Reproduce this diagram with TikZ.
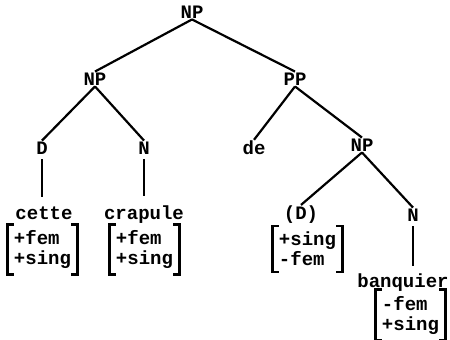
\documentclass[tikz,border=0pt]{standalone}
\usepackage{fontspec}
\setmonofont{Liberation Mono}
\usepackage{tikz}

\begin{document}
\begin{tikzpicture}[x=1pt,y=-1pt,
		lbl/.style={font=\ttfamily\bfseries\fontsize{19}{20}\selectfont,inner sep=1pt},
		word/.style={lbl,anchor=base},
		feat/.style={lbl,align=left,inner xsep=6pt,inner ysep=6pt},
		branch/.style={line width=2.2pt},
		brk/.style={line width=2.6pt}]
		\useasboundingbox (0,0) rectangle (450,340);
		% categories
		\node[lbl] (np0) at (192,12) {NP};
		\node[lbl] (np1) at (95,79) {NP};
		\node[lbl] (pp) at (295,79) {PP};
		\node[lbl] (d1) at (42,148) {D};
		\node[lbl] (n1) at (144,148) {N};
		\node[lbl] (de) at (254,148) {de};
		\node[lbl] (np2) at (362,145) {NP};
		\node[lbl] (d2) at (301,215) {(D)};
		\node[lbl] (n2) at (413,215) {N};
		% words and features
		\node[word] (cette) at (44,219) {cette};
		\node[word] (crapule) at (144,219) {crapule};
		\node[word] (banquier) at (403,287) {banquier};
		\node[feat] (f1) at (42.5,249.5) {+fem\\+sing};
		\node[feat] (f2) at (144.5,249.5) {+fem\\+sing};
		\node[feat] (f3) at (307.5,249) {+sing\\-fem};
		\node[feat] (f4) at (410.5,315) {-fem\\+sing};

		\draw[branch] (np0.south) -- (np1.north);
		\draw[branch] (np0.south) -- (pp.north);
		\draw[branch] (np1.south) -- (d1.north);
		\draw[branch] (np1.south) -- (n1.north);
		\draw[branch] (pp.south) -- (de.north);
		\draw[branch] (pp.south) -- (np2.north);
		\draw[branch] (np2.south) -- (d2.north);
		\draw[branch] (np2.south) -- (n2.north);
		\draw[branch,shorten <=4pt,shorten >=8pt] (d1.south) -- (d1.south |- cette.north);
		\draw[branch,shorten <=4pt,shorten >=8pt] (n1.south) -- (n1.south |- crapule.north);
		\draw[branch,shorten <=4pt,shorten >=6pt] (n2.south) -- (n2.south |- banquier.north);
		\foreach \f in {f1,f2,f3,f4}{
			\draw[brk] ([xshift=6pt]\f.north west) -- (\f.north west) -- (\f.south west) -- ++(6pt,0);
			\draw[brk] ([xshift=-6pt]\f.north east) -- (\f.north east) -- (\f.south east) -- ++(-6pt,0);
		}
	\end{tikzpicture}
\end{document}
